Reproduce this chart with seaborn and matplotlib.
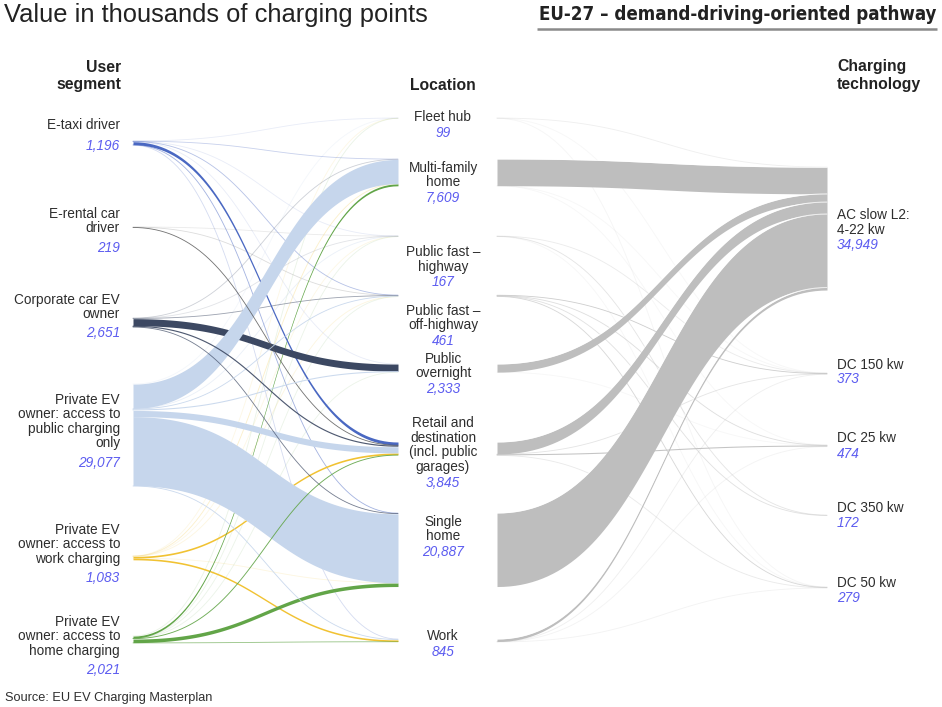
import numpy as np
import pandas as pd
import matplotlib
matplotlib.use("Agg")
import matplotlib.pyplot as plt
import seaborn as sns

# ---- data (thousands of charging points) ----
segments = ["E-taxi driver", "E-rental car\ndriver", "Corporate car EV\nowner",
            "Private EV\nowner: access to\npublic charging\nonly",
            "Private EV\nowner: access to\nwork charging",
            "Private EV\nowner: access to\nhome charging"]
segment_values = [1196, 219, 2651, 29077, 1083, 2021]

locations = ["Fleet hub", "Multi-family\nhome", "Public fast \u2013\nhighway",
             "Public fast \u2013\noff-highway", "Public\novernight",
             "Retail and\ndestination\n(incl. public\ngarages)", "Single\nhome", "Work"]
location_values = [99, 7609, 167, 461, 2333, 3845, 20887, 845]

technologies = ["AC slow L2:\n4-22 kw", "DC 150 kw", "DC 25 kw", "DC 350 kw", "DC 50 kw"]
technology_values = [34949, 373, 474, 172, 279]

# segment -> location (rows: segments, columns: locations)
taxi_to_location = [20, 60, 20, 80, 20, 850, 100, 46]
rental_to_location = [0, 0, 15, 40, 0, 164, 0, 0]
corporate_to_location = [0, 50, 30, 100, 2000, 330, 141, 0]
public_only_to_location = [40, 6900, 70, 200, 300, 1760, 19600, 207]
work_access_to_location = [13, 50, 20, 30, 0, 480, 30, 460]
home_access_to_location = [26, 549, 12, 11, 13, 261, 1016, 132]

# location -> technology (rows: locations, columns: technologies)
fleet_to_tech = [50, 20, 0, 0, 29]
multifamily_to_tech = [7580, 14, 15, 0, 0]
fast_highway_to_tech = [0, 60, 0, 81, 26]
fast_offhighway_to_tech = [0, 150, 100, 91, 120]
overnight_to_tech = [2310, 0, 23, 0, 0]
retail_to_tech = [3400, 80, 300, 0, 65]
single_home_to_tech = [20887, 0, 0, 0, 0]
work_to_tech = [722, 49, 36, 0, 38]

seg_flows = np.array([taxi_to_location, rental_to_location, corporate_to_location,
                      public_only_to_location, work_access_to_location,
                      home_access_to_location], dtype=float)
loc_flows = np.array([fleet_to_tech, multifamily_to_tech, fast_highway_to_tech,
                      fast_offhighway_to_tech, overnight_to_tech, retail_to_tech,
                      single_home_to_tech, work_to_tech], dtype=float)

# ---- layout ----
K = 0.00352                     # pixels per thousand points
X_SEG, X_LOC_IN, X_LOC_OUT, X_TECH = 133, 398, 497, 827
seg_top = [141, 227, 318, 384, 556, 636]
loc_top = [118, 159, 236, 295, 364, 442, 513, 639]
tech_top = [167, 373, 445, 515, 587]

seg_colors = ["#4a68c2", "#555555", "#3c4862", "#c6d6ec", "#f1c232", "#62a548"]
flow_gray = "#bebebe"
num_color = "#5c5cf0"
text_color = "#2e2e2e"

sns.set_theme(style="white")
plt.rcParams["font.family"] = ["Liberation Sans", "DejaVu Sans"]

fig = plt.figure(figsize=(9.42, 7.07), dpi=100)
ax = fig.add_axes([0, 0, 1, 1])
ax.set_xlim(0, 942)
ax.set_ylim(707, 0)
ax.axis("off")

t = np.linspace(0, 1, 80)


def bezier(x0, x1, y0, y1):
    xm = (x0 + x1) / 2
    x = (1 - t) ** 3 * x0 + 3 * (1 - t) ** 2 * t * xm + 3 * (1 - t) * t ** 2 * xm + t ** 3 * x1
    y = (1 - t) ** 3 * y0 + 3 * (1 - t) ** 2 * t * y0 + 3 * (1 - t) * t ** 2 * y1 + t ** 3 * y1
    return x, y


def draw_link(x0, x1, y0, y1, value, color, edge=None):
    w = value * K
    if w >= 1.6:
        x, ytop = bezier(x0, x1, y0, y1)
        ax.fill_between(x, ytop, ytop + w, color=color, lw=0, zorder=2)
        if edge:
            ax.plot(x, ytop, color=edge, lw=0.6, alpha=0.8, zorder=2.5)
    else:
        x, yc = bezier(x0, x1, y0 + w / 2, y1 + w / 2)
        alpha = float(np.clip(value / 200, 0.12, 0.9))
        lw = max(w, 0.85) * 0.72
        sns.lineplot(x=x, y=yc, sort=False, estimator=None, color=color,
                     lw=lw, alpha=alpha, ax=ax, zorder=3 if value > 100 else 1)


def link_offsets(flows, src_top, dst_top):
    """Stack links at both ends: ordered by the other end's position."""
    n_src, n_dst = flows.shape
    out_off = np.zeros_like(flows)
    in_off = np.zeros_like(flows)
    for i in range(n_src):
        acc = src_top[i]
        for j in np.argsort(dst_top):
            out_off[i, j] = acc
            acc += flows[i, j] * K
    for j in range(n_dst):
        acc = dst_top[j]
        for i in np.argsort(src_top):
            in_off[i, j] = acc
            acc += flows[i, j] * K
    return out_off, in_off


# segment -> location links, thin ones first, bands on top
o1, i1 = link_offsets(seg_flows, seg_top, loc_top)
order = sorted([(seg_flows[i, j], i, j) for i in range(6) for j in range(8) if seg_flows[i, j] > 0])
for v, i, j in order:
    draw_link(X_SEG, X_LOC_IN, o1[i, j], i1[i, j], v, seg_colors[i])

# location -> technology links
o2, i2 = link_offsets(loc_flows, loc_top, tech_top)
order = sorted([(loc_flows[i, j], i, j) for i in range(8) for j in range(5) if loc_flows[i, j] > 0])
for v, i, j in order:
    draw_link(X_LOC_OUT, X_TECH, o2[i, j], i2[i, j], v, flow_gray, edge="white")


# ---- text ----
def label(x, y_first, text, ha, step=14.5, **kw):
    for k, line in enumerate(text.split("\n")):
        ax.text(x, y_first + k * step, line, ha=ha, va="center", color=text_color,
                fontsize=9.8, **kw)


def value_label(x, y, v, ha):
    ax.text(x, y, f"{v:,}", ha=ha, va="center", color=num_color, fontsize=9.8,
            style="italic")


seg_label_y = [125, 214, 300, 400, 530, 622]
seg_value_y = [146, 248, 333, 463, 578, 670]
for name, v, ly, vy in zip(segments, segment_values, seg_label_y, seg_value_y):
    label(120, ly, name, "right")
    value_label(120, vy, v, "right")

loc_label_y = [117, 168, 252, 311, 359, 423, 522, 636]
loc_value_y = [133, 198, 282, 341, 389, 483, 552, 652]
for name, v, ly, vy in zip(locations, location_values, loc_label_y, loc_value_y):
    label(443, ly, name, "center")
    value_label(443, vy, v, "center")

tech_label_y = [215, 365, 438, 508, 583]
tech_value_y = [245, 379, 454, 523, 598]
for name, v, ly, vy in zip(technologies, technology_values, tech_label_y, tech_value_y):
    label(837, ly, name, "left")
    value_label(837, vy, v, "left")

# column headers
for x, ha, lines in [(121, "right", ["User", "segment"]),
                     (443, "center", ["", "Location"]),
                     (837, "left", ["Charging", "technology"])]:
    for k, line in enumerate(lines):
        ax.text(x, 67 + 18 * k, line, ha=ha, va="center", fontsize=11.3,
                fontweight="bold", color="#222222")

ax.text(4, 15, "Value in thousands of charging points", ha="left", va="center",
        fontsize=18.4, color="#222222")
ax.text(936, 15, "EU-27 \u2013 demand-driving-oriented pathway", ha="right", va="center",
        fontsize=13.4, fontweight="bold", fontstretch="condensed", color="#222222",
        family="DejaVu Sans")
ax.plot([537, 937], [29, 29], color="#8a8a8a", lw=1.8, solid_capstyle="butt")

ax.text(5, 698, "Source: EU EV Charging Masterplan", ha="left", va="center",
        fontsize=9.2, color=text_color)

fig.savefig("out.png", dpi=100, facecolor="white")
